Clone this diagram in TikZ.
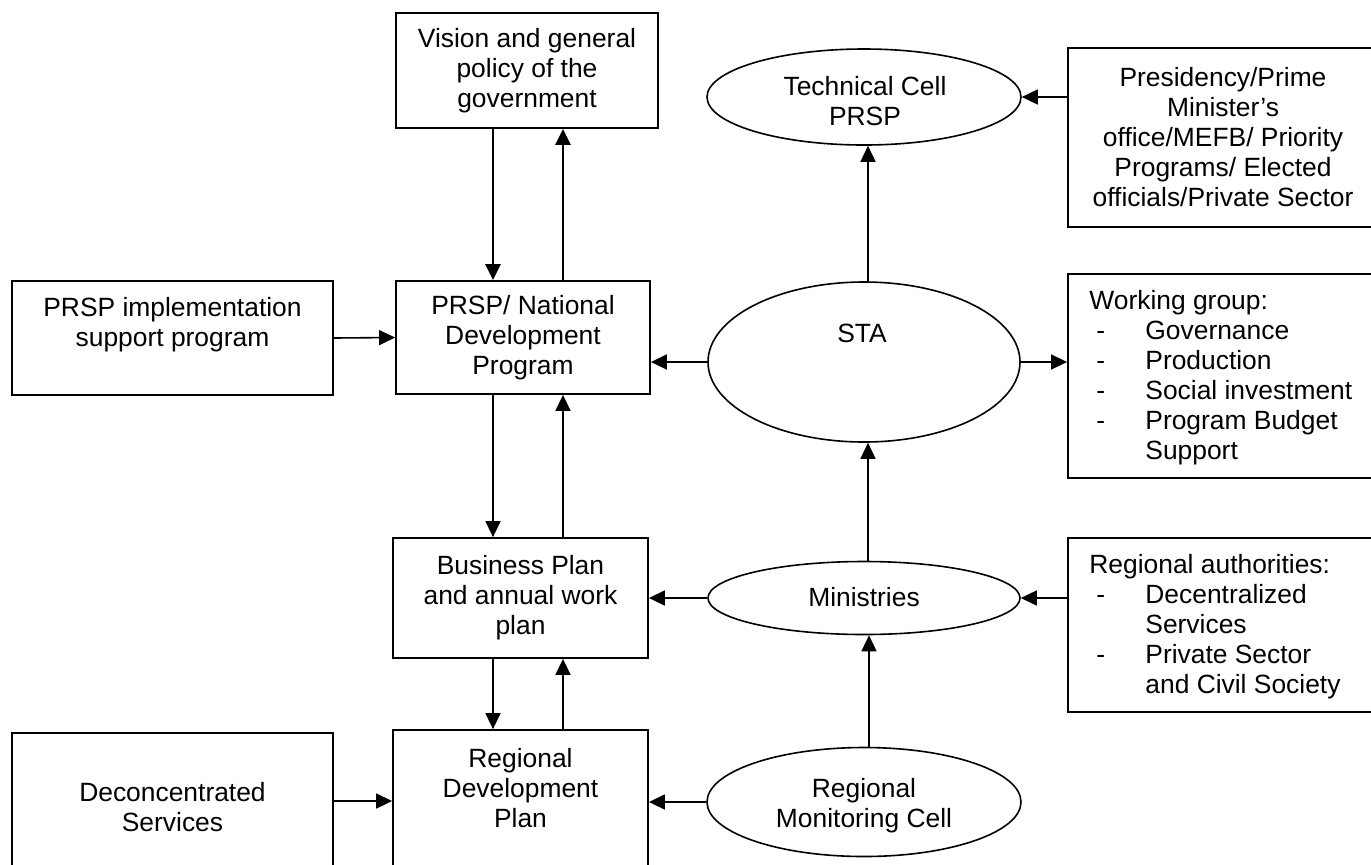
\documentclass[tikz,border=0pt]{standalone}
\usepackage{fontspec}
\setmainfont{Liberation Sans}
\usetikzlibrary{arrows.meta,shapes.geometric}
\newcommand\wgitem{\hspace*{3.5pt}\makebox[24.5pt][l]{-}}
\newcommand\wgcont{\hspace*{28pt}}
\begin{document}
\begin{tikzpicture}[x=0.5pt,y=-0.5pt,
  txt/.style={font=\fontsize{13.2pt}{15pt}\selectfont, align=center, inner sep=0pt},
  ltxt/.style={font=\fontsize{13.2pt}{15pt}\selectfont, align=left, inner sep=0pt, anchor=west},
  boxnode/.style={draw, line width=0.9pt, rectangle, inner sep=0pt, txt},
  ell/.style={draw, line width=0.8pt, ellipse, inner sep=0pt},
  arr/.style={line width=0.8pt, -{Triangle[length=8pt,width=7.5pt]}},
  tarr/.style={line width=1.4pt, -{Triangle[length=8pt,width=7.5pt]}}]
\useasboundingbox (0,0) rectangle (1371,864);
\fill[white] (0,0) rectangle (1371,864);
\clip (0,0) rectangle (1371,864);

% boxes
\node[boxnode, minimum width=131pt, minimum height=57.5pt] (vision) at (527,70.5)
  {Vision and general\\policy of the\\government};
\node[boxnode, minimum width=155pt, minimum height=89.5pt] (pres) at (1223,137.5)
  {Presidency/Prime\\Minister’s\\office/MEFB/ Priority\\Programs/ Elected\\officials/Private Sector};
\node[boxnode, minimum width=160.5pt, minimum height=57pt] (impl) at (172.5,338) {};
\node[txt] (impltxt) at (172.5,325) {PRSP implementation\\support program};
\node[boxnode, minimum width=127pt, minimum height=56.5pt] (prsp) at (523,337.5)
  {PRSP/ National\\Development\\Program};
\node[boxnode, minimum width=155pt, minimum height=102pt] (wg) at (1223,376) {};
\node[ltxt] (wgtxt) at (1089,378) {Working group:\\
  \wgitem Governance\\ \wgitem Production\\ \wgitem Social investment\\
  \wgitem Program Budget\\ \wgcont Support};
\node[boxnode, minimum width=127.5pt, minimum height=60pt] (bus) at (520.5,598)
  {Business Plan\\and annual work\\plan};
\node[boxnode, minimum width=155pt, minimum height=87pt] (ra) at (1223,625) {};
\node[ltxt] (ratxt) at (1089,627) {Regional authorities:\\
  \wgitem Decentralized\\ \wgcont Services\\ \wgitem Private Sector\\
  \wgcont and Civil Society};
\node[boxnode, minimum width=160.5pt, minimum height=73.5pt] (deconc) at (172.5,806.5) {};
\node[txt] (deconctxt) at (172.5,807) {Deconcentrated\\Services};
\node[boxnode, minimum width=127.5pt, minimum height=75pt] (regdev) at (520.5,805) {};
\node[txt] (regdevtxt) at (520.5,788) {Regional\\Development\\Plan};

% ellipses
\node[ell, minimum width=157pt, minimum height=48pt] (tech) at (864,97) {};
\node[txt] (techtxt) at (865,101) {Technical Cell\\PRSP};
\node[ell, minimum width=156pt, minimum height=80pt] (sta) at (864,362) {};
\node[txt] (statxt) at (862,333) {STA};
\node[ell, minimum width=156pt, minimum height=36.5pt] (min) at (864,598) {};
\node[txt] (mintxt) at (864,597) {Ministries};
\node[ell, minimum width=157pt, minimum height=54.5pt] (rmc) at (864,802) {};
\node[txt] (rmctxt) at (864,806) {Regional\\Monitoring Cell};

% helper coordinates
\coordinate (xa) at (493,0);
\coordinate (xb) at (563,0);
\coordinate (yd) at (0,801);

% connectors
\draw[tarr] (vision.south -| xa) -- (prsp.north -| xa);
\draw[tarr] (prsp.north -| xb) -- (vision.south -| xb);
\draw[arr] (prsp.south -| xa) -- (bus.north -| xa);
\draw[arr] (bus.north -| xb) -- (prsp.south -| xb);
\draw[arr] (bus.south -| xa) -- (regdev.north -| xa);
\draw[arr] (regdev.north -| xb) -- (bus.south -| xb);
\draw[arr] (impl.east) -- (prsp.west);
\draw[arr] (deconc.east |- yd) -- (regdev.west |- yd);
\draw[arr] (sta.west) -- (sta.west -| prsp.east);
\draw[arr] (sta.east) -- (sta.east -| wg.west);
\draw[arr] ([xshift=2pt]sta.north) -- ([xshift=2pt]tech.south);
\draw[arr] (tech.east -| pres.west) -- (tech.east);
\draw[arr] ([xshift=2pt]min.north) -- ([xshift=2pt]sta.south);
\draw[arr] (min.west) -- (min.west -| bus.east);
\draw[arr] (min.east -| ra.west) -- (min.east);
\draw[arr] ([xshift=2.5pt]rmc.north) -- ([xshift=2.5pt]min.south);
\draw[arr] (rmc.west) -- (rmc.west -| regdev.east);
\end{tikzpicture}
\end{document}
